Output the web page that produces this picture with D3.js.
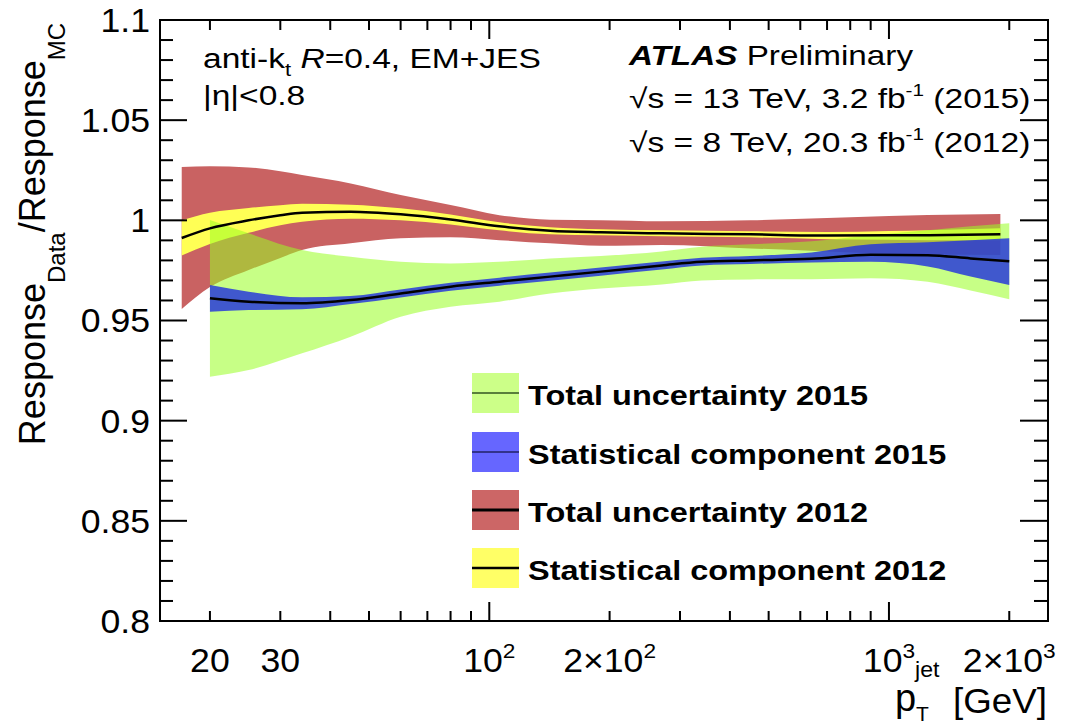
<!DOCTYPE html>
<html>
<head>
<meta charset="utf-8">
<script src="https://cdn.jsdelivr.net/npm/d3@7"></script>
<style>
body { margin: 0; background: #fff; }
text { font-family: "Liberation Sans", Arial, Helvetica, sans-serif; fill: #000; }
</style>
</head>
<body>
<script>
const width = 1065, height = 725;

// 2012, sqrt(s) = 8 TeV
const pt2012 = [17, 20, 25, 30, 34, 45, 60, 80, 106, 142, 190, 270, 450, 700, 1000, 1250, 1900];
const resp2012 = [0.9912, 0.9960, 1.0000, 1.0025, 1.0038, 1.0043, 1.0030, 1.0004, 0.9970, 0.9948, 0.9940, 0.9935, 0.9930, 0.9924, 0.9925, 0.9926, 0.9930];
const statHi2012 = [1.0000, 1.0038, 1.0062, 1.0075, 1.0083, 1.0078, 1.0060, 1.0029, 0.9990, 0.9966, 0.9955, 0.9950, 0.9945, 0.9942, 0.9947, 0.9951, 0.9960];
const statLo2012 = [0.9824, 0.9882, 0.9938, 0.9975, 0.9993, 1.0008, 1.0000, 0.9979, 0.9950, 0.9930, 0.9925, 0.9920, 0.9915, 0.9906, 0.9903, 0.9901, 0.9900];
const totHi2012 = [1.0266, 1.0270, 1.0264, 1.0245, 1.0226, 1.0184, 1.0126, 1.0076, 1.0026, 1.0003, 1.0000, 0.9995, 1.0000, 1.0012, 1.0022, 1.0027, 1.0032];
const totLo2012 = [0.9557, 0.9667, 0.9752, 0.9812, 0.9852, 0.9885, 0.9910, 0.9915, 0.9901, 0.9885, 0.9873, 0.9877, 0.9860, 0.9845, 0.9833, 0.9830, 0.9827];

// 2015, sqrt(s) = 13 TeV
const pt2015 = [20, 25, 34, 45, 60, 80, 106, 142, 190, 270, 340, 450, 640, 900, 1250, 1600, 2000];
const resp2015 = [0.9611, 0.9594, 0.9586, 0.9602, 0.9635, 0.9669, 0.9694, 0.9719, 0.9744, 0.9775, 0.9793, 0.9800, 0.9808, 0.9828, 0.9826, 0.9810, 0.9796];
const statHi2015 = [0.9677, 0.9644, 0.9616, 0.9622, 0.9655, 0.9689, 0.9714, 0.9739, 0.9764, 0.9795, 0.9813, 0.9822, 0.9840, 0.9880, 0.9890, 0.9900, 0.9910];
const statLo2015 = [0.9544, 0.9552, 0.9556, 0.9582, 0.9615, 0.9649, 0.9674, 0.9699, 0.9724, 0.9755, 0.9775, 0.9782, 0.9790, 0.9793, 0.9770, 0.9720, 0.9677];
const totHi2015 = [1.0002, 0.9935, 0.9852, 0.9818, 0.9793, 0.9785, 0.9793, 0.9810, 0.9822, 0.9845, 0.9868, 0.9880, 0.9895, 0.9925, 0.9950, 0.9970, 0.9985];
const totLo2015 = [0.9219, 0.9253, 0.9336, 0.9419, 0.9519, 0.9569, 0.9594, 0.9635, 0.9660, 0.9680, 0.9700, 0.9705, 0.9706, 0.9711, 0.9694, 0.9650, 0.9606];

// axes
const yMajor = [0.8, 0.85, 0.9, 0.95, 1, 1.05, 1.1];
const yMajorLabels = ["0.8", "0.85", "0.9", "0.95", "1", "1.05", "1.1"];
const xMinor = [20, 30, 40, 50, 60, 70, 80, 90, 200, 300, 400, 500, 600, 700, 800, 900, 2000];
const xMajor = [100, 1000];
const xLabelVals = [20, 30, 100, 200, 1000, 2000];
const xLabelBase = ["20", "30", "10", "2\u00d710", "10", "2\u00d710"];
const xLabelExp = ["", "", "2", "2", "3", "3"];

// legend
const legendNames = ["Total uncertainty 2015", "Statistical component 2015", "Total uncertainty 2012", "Statistical component 2012"];
const legendFill = ["#ccff88", "#6666ff", "#cc6666", "#ffff66"];
const legendLine = ["#335522", "#222266", "#000", "#000"];
const legendLineW = [1.5, 1.5, 3, 2.5];

const L = 160, R = 1048, T = 20, B = 621;
const x = d3.scaleLog().domain([15, 2500]).range([L, R]);
const y = d3.scaleLinear().domain([0.8, 1.1]).range([B, T]);

const svg = d3.select("body").append("svg").attr("width", width).attr("height", height);

svg.append("clipPath").attr("id", "frame")
    .append("rect").attr("x", L).attr("y", T).attr("width", R - L).attr("height", B - T);

const rows = (pts, lo, hi) => pts.map((p, i) => ({pt: p, lo: lo[i], hi: hi[i]}));
const area = d3.area().x(d => x(d.pt)).y0(d => y(d.lo)).y1(d => y(d.hi)).curve(d3.curveMonotoneX);
const line = d3.line().x(d => x(d.pt)).y(d => y(d.v)).curve(d3.curveMonotoneX);

const plot = svg.append("g").attr("clip-path", "url(#frame)");
plot.append("path").attr("d", area(rows(pt2012, totLo2012, totHi2012))).attr("fill", "#c96262");
plot.append("path").attr("d", area(rows(pt2012, statLo2012, statHi2012))).attr("fill", "#ffff55");
plot.append("path").attr("d", area(rows(pt2015, totLo2015, totHi2015))).attr("fill", "#99ff22").attr("fill-opacity", 0.55);
plot.append("path").attr("d", area(rows(pt2015, statLo2015, statHi2015))).attr("fill", "#2233dd").attr("fill-opacity", 0.82);
plot.append("path").attr("d", line(pt2012.map((p, i) => ({pt: p, v: resp2012[i]}))))
    .attr("fill", "none").attr("stroke", "#000").attr("stroke-width", 2.5);
plot.append("path").attr("d", line(pt2015.map((p, i) => ({pt: p, v: resp2015[i]}))))
    .attr("fill", "none").attr("stroke", "#000").attr("stroke-width", 2.5);

// frame and ticks
const ax = svg.append("g").attr("stroke", "#000").attr("stroke-width", 2);
ax.append("rect").attr("x", L).attr("y", T).attr("width", R - L).attr("height", B - T).attr("fill", "none");
const yMinor = d3.range(81, 110).map(v => v / 100).filter(v => Math.abs(v * 20 - Math.round(v * 20)) > 1e-6);
yMinor.forEach(v => {
    ax.append("line").attr("x1", L).attr("x2", L + 13).attr("y1", y(v)).attr("y2", y(v));
    ax.append("line").attr("x1", R).attr("x2", R - 14).attr("y1", y(v)).attr("y2", y(v));
});
yMajor.forEach(v => {
    ax.append("line").attr("x1", L).attr("x2", L + 27).attr("y1", y(v)).attr("y2", y(v));
    ax.append("line").attr("x1", R).attr("x2", R - 28).attr("y1", y(v)).attr("y2", y(v));
});
xMinor.forEach(v => {
    ax.append("line").attr("x1", x(v)).attr("x2", x(v)).attr("y1", B).attr("y2", B - 10);
    ax.append("line").attr("x1", x(v)).attr("x2", x(v)).attr("y1", T).attr("y2", T + 10);
});
xMajor.forEach(v => {
    ax.append("line").attr("x1", x(v)).attr("x2", x(v)).attr("y1", B).attr("y2", B - 19);
    ax.append("line").attr("x1", x(v)).attr("x2", x(v)).attr("y1", T).attr("y2", T + 19);
});

function txt(px, py, sx, size) {
    return svg.append("text")
        .attr("transform", `translate(${px},${py}) scale(${sx},1)`)
        .attr("font-size", size);
}

// tick labels
yMajor.forEach((v, i) => {
    txt(150, y(v), 1.08, 33).attr("text-anchor", "end").attr("dy", "0.36em").text(yMajorLabels[i]);
});
xLabelVals.forEach((v, i) => {
    const t = txt(x(v), 672, 1.08, 33).attr("text-anchor", "middle");
    t.append("tspan").text(xLabelBase[i]);
    if (xLabelExp[i]) t.append("tspan").attr("dy", -14).attr("font-size", 21).text(xLabelExp[i]);
});

// axis titles
const yt = svg.append("text").attr("transform", "translate(45,234) rotate(-90)")
    .attr("text-anchor", "middle").attr("font-size", 36);
yt.append("tspan").text("Response");
yt.append("tspan").attr("dy", 20).attr("font-size", 24).text("Data");
yt.append("tspan").attr("dy", -20).text("/Response");
yt.append("tspan").attr("dy", 20).attr("font-size", 24).text("MC");

txt(895, 711, 1.0, 38).text("p");
txt(915, 677, 1.05, 22).text("jet");
txt(916, 721, 1.05, 20).text("T");
txt(1047, 713, 1.05, 35).attr("text-anchor", "end").text("[GeV]");

// labels
const l1 = txt(203, 68, 1.22, 27.5);
l1.append("tspan").text("anti-k");
l1.append("tspan").attr("dy", 8).attr("font-size", 18).text("t");
l1.append("tspan").attr("dy", -8).text(" ");
l1.append("tspan").attr("font-style", "italic").text("R");
l1.append("tspan").text("=0.4, EM+JES");
txt(203, 105, 1.22, 27.5).text("|\u03b7|<0.8");

const a1 = txt(629, 65, 1.21, 27.5);
a1.append("tspan").attr("font-weight", "bold").attr("font-style", "italic").text("ATLAS");
a1.append("tspan").text(" Preliminary");
const a2 = txt(629, 108, 1.22, 27.5);
a2.append("tspan").text("\u221as = 13 TeV, 3.2 fb");
a2.append("tspan").attr("dy", -12).attr("font-size", 17).text("-1");
a2.append("tspan").attr("dy", 12).text(" (2015)");
const a3 = txt(629, 152, 1.22, 27.5);
a3.append("tspan").text("\u221as = 8 TeV, 20.3 fb");
a3.append("tspan").attr("dy", -12).attr("font-size", 17).text("-1");
a3.append("tspan").attr("dy", 12).text(" (2012)");

// legend
const legY = [393, 452, 510, 568];
legendNames.forEach((name, i) => {
    svg.append("rect").attr("x", 472).attr("y", legY[i] - 20).attr("width", 47).attr("height", 40)
        .attr("fill", legendFill[i]);
    svg.append("line").attr("x1", 472).attr("x2", 519).attr("y1", legY[i]).attr("y2", legY[i])
        .attr("stroke", legendLine[i]).attr("stroke-width", legendLineW[i]);
    txt(528, legY[i] + 12, 1.18, 27.5).attr("font-weight", "bold").text(name);
});
</script>
</body>
</html>
